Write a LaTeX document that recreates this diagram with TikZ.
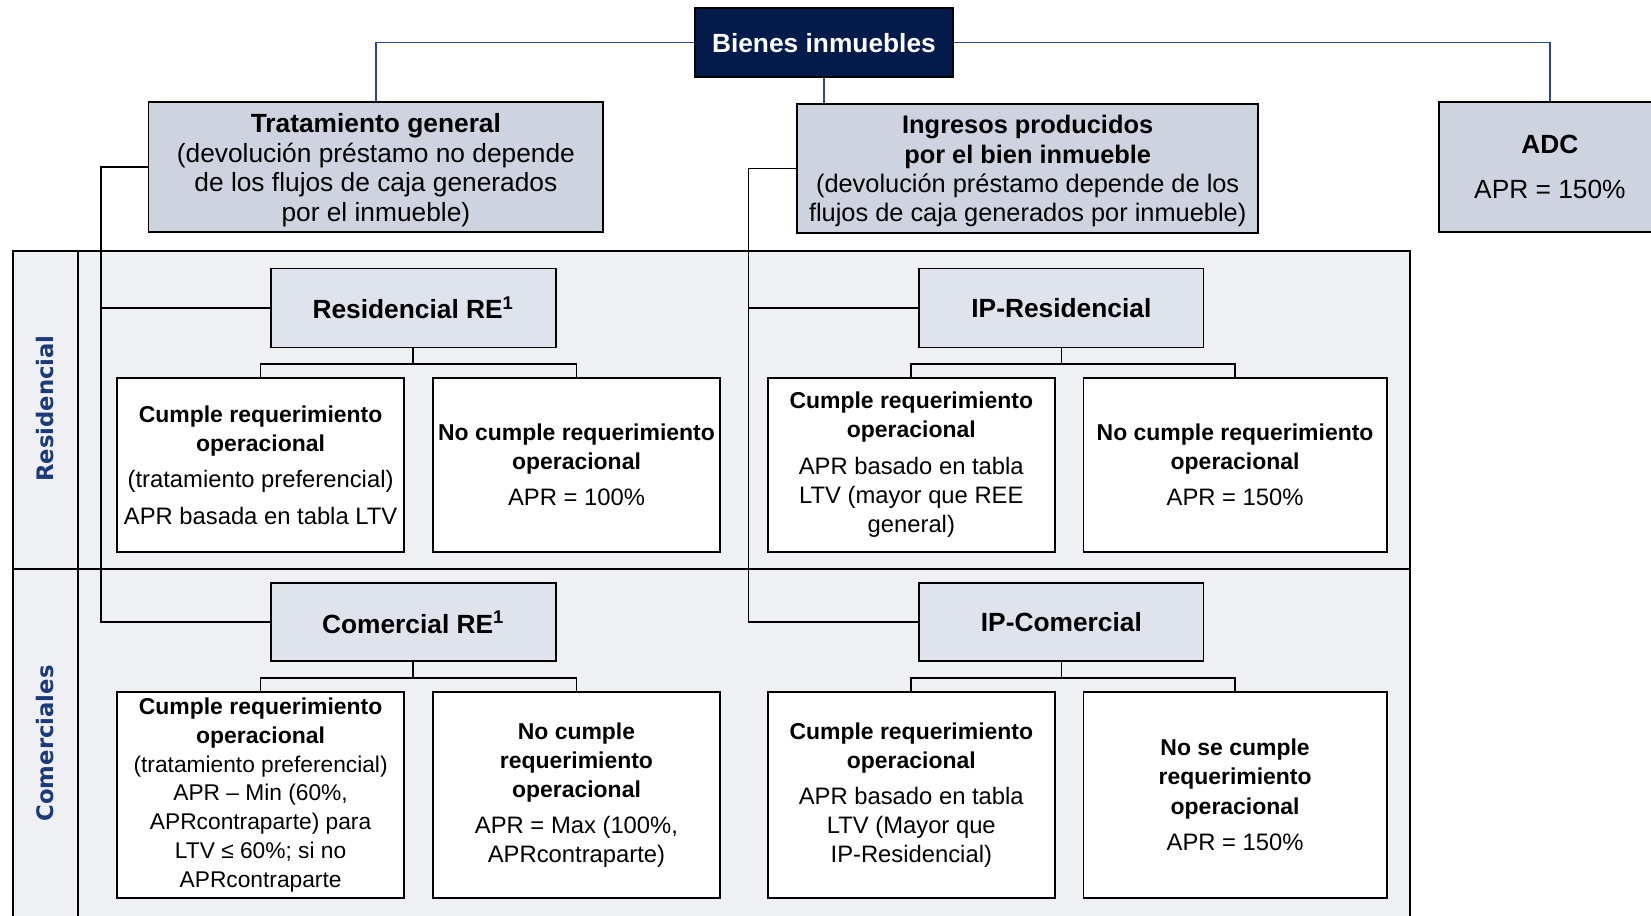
\documentclass[tikz,border=0pt]{standalone}
\usepackage{fontspec}
\setmainfont{Liberation Sans}
\newfontfamily\labfont{DejaVu Sans}
\usetikzlibrary{calc}
\definecolor{navybox}{HTML}{021B4B}
\definecolor{topfill}{HTML}{CDD4E0}
\definecolor{midfill}{HTML}{DFE3EC}
\definecolor{panelfill}{HTML}{EFF0F4}
\definecolor{labblue}{HTML}{1A3A7C}
\definecolor{linkblue}{HTML}{2A4A8A}
\newcommand{\hb}[1]{{\bfseries\fontsize{10.9}{13.8}\selectfont #1}}
\tikzset{
  box/.style={draw=black, line width=0.9pt, align=center, inner sep=1pt, font=\fontsize{12.5}{14}\selectfont},
  topbox/.style={box, fill=topfill},
  midbox/.style={box, fill=midfill, minimum height=37.5pt},
  leaf/.style={box, fill=white, font=\fontsize{11.3}{13.8}\selectfont},
  conn/.style={line width=0.8pt, black},
  bconn/.style={line width=0.7pt, linkblue},
  sidelab/.style={rotate=90, text=labblue, font=\labfont\bfseries\fontsize{10.8}{13}\selectfont}
}
\begin{document}
\begin{tikzpicture}[x=0.5pt,y=-0.5pt]
\useasboundingbox (0,0) rectangle (1568,869);
% panel
\fill[panelfill] (12,238) rectangle (1339,900);
\draw[line width=0.9pt] (12,900) -- (12,238) -- (1339,238) -- (1339,900);
\draw[line width=0.9pt] (12,540) -- (1339,540);
\draw[line width=0.9pt] (74,238) -- (74,900);
\node[sidelab] (lres) at (43,388) {Residencial};
\node[sidelab] (lcom) at (43,706) {Comerciales};
% top
\node[box, fill=navybox, text=white, font=\bfseries\fontsize{12.5}{14}\selectfont, minimum width=122.5pt, minimum height=32.5pt] (bienes) at (782.5,40.5) {Bienes inmuebles};
\node[topbox, minimum width=216pt, minimum height=61.5pt] (trat) at (357,158.5)
  {\rule{0pt}{12pt}\textbf{Tratamiento general}\\(devolución préstamo no depende\\de los flujos de caja generados\\por el inmueble)};
\node[topbox, minimum width=219pt, minimum height=61pt, font=\fontsize{12.05}{13.85}\selectfont] (ingr) at (976,160)
  {\rule{0pt}{11.3pt}\textbf{Ingresos producidos}\\\textbf{por el bien inmueble}\\(devolución préstamo depende de los\\flujos de caja generados por inmueble)};
\node[topbox, minimum width=105pt, minimum height=61.5pt] (adc) at (1472,158.5)
  {\textbf{ADC}\\[7.5pt]APR = 150\%};
% mid
\node[midbox, minimum width=135.5pt, font=\bfseries\fontsize{12.5}{14}\selectfont] (resre) at (392.5,292.5) {Residencial RE\textsuperscript{1}};
\node[midbox, minimum width=135pt, font=\bfseries\fontsize{12.5}{14}\selectfont] (ipres) at (1008,292.5) {IP-Residencial};
\node[midbox, minimum width=135.5pt, minimum height=37pt, font=\bfseries\fontsize{12.5}{14}\selectfont] (comre) at (392.5,591) {Comercial RE\textsuperscript{1}};
\node[midbox, minimum width=135pt, minimum height=37pt, font=\bfseries\fontsize{12.5}{14}\selectfont] (ipcom) at (1008,591) {IP-Comercial};
% leaves row 1
\node[leaf, minimum width=136.5pt, minimum height=82.5pt] (r1) at (247.5,441.5)
  {\hb{Cumple requerimiento}\\\hb{operacional}\\[3.5pt](tratamiento preferencial)\\[3.5pt]APR basada en tabla LTV};
\node[leaf, minimum width=136.5pt, minimum height=82.5pt] (r2) at (547.5,441.5)
  {\hb{No cumple requerimiento}\\\hb{operacional}\\[3.2pt]APR = 100\%};
\node[leaf, minimum width=136.5pt, minimum height=82.5pt] (r3) at (865.5,441.5)
  {\hb{Cumple requerimiento}\\\hb{operacional}\\[3.5pt]APR basado en tabla\\LTV (mayor que REE\\general)};
\node[leaf, minimum width=144pt, minimum height=82.5pt] (r4) at (1173,441.5)
  {\hb{No cumple requerimiento}\\\hb{operacional}\\[3.2pt]APR = 150\%};
% leaves row 2
\node[leaf, minimum width=136.5pt, minimum height=98pt, font=\fontsize{10.8}{13.7}\selectfont] (c1) at (247.5,755)
  {\hb{Cumple requerimiento}\\\hb{operacional}\\(tratamiento preferencial)\\APR – Min (60\%,\\APRcontraparte) para\\LTV ≤ 60\%; si no\\APRcontraparte};
\node[leaf, minimum width=136.5pt, minimum height=98pt] (c2) at (547.5,755)
  {\hb{No cumple}\\\hb{requerimiento}\\\hb{operacional}\\[3.5pt]APR = Max (100\%,\\APRcontraparte)};
\node[leaf, minimum width=136.5pt, minimum height=98pt] (c3) at (865.5,755)
  {\hb{Cumple requerimiento}\\\hb{operacional}\\[3.5pt]APR basado en tabla\\LTV (Mayor que\\IP-Residencial)};
\node[leaf, minimum width=144pt, minimum height=98pt] (c4) at (1173,755)
  {\hb{No se cumple}\\\hb{requerimiento}\\\hb{operacional}\\[3.5pt]APR = 150\%};
% blue connectors
\draw[bconn] (bienes.west) -| (trat.north);
\draw[bconn] (bienes.east) -| (adc.north);
\draw[bconn] (bienes.south) -- (bienes.south |- ingr.north);
% black side connectors
\coordinate (tl) at (96,0);
\coordinate (il) at (711,0);
\draw[conn] (trat.west) -| (tl |- comre.west) -- (comre.west);
\draw[conn] (tl |- resre.west) -- (resre.west);
\draw[conn] (ingr.west) -| (il |- ipcom.west) -- (ipcom.west);
\draw[conn] (il |- ipres.west) -- (ipres.west);
% tree connectors
\draw[conn] (resre.south) -- ++(0,15) coordinate (b1);
\draw[conn] (r1.north) |- (b1) -| (r2.north);
\draw[conn] (ipres.south) -- ++(0,15) coordinate (b2);
\draw[conn] (r3.north) |- (b2) -| (r4.north);
\draw[conn] (comre.south) -- ++(0,15) coordinate (b3);
\draw[conn] (c1.north) |- (b3) -| (c2.north);
\draw[conn] (ipcom.south) -- ++(0,15) coordinate (b4);
\draw[conn] (c3.north) |- (b4) -| (c4.north);
\end{tikzpicture}
\end{document}
